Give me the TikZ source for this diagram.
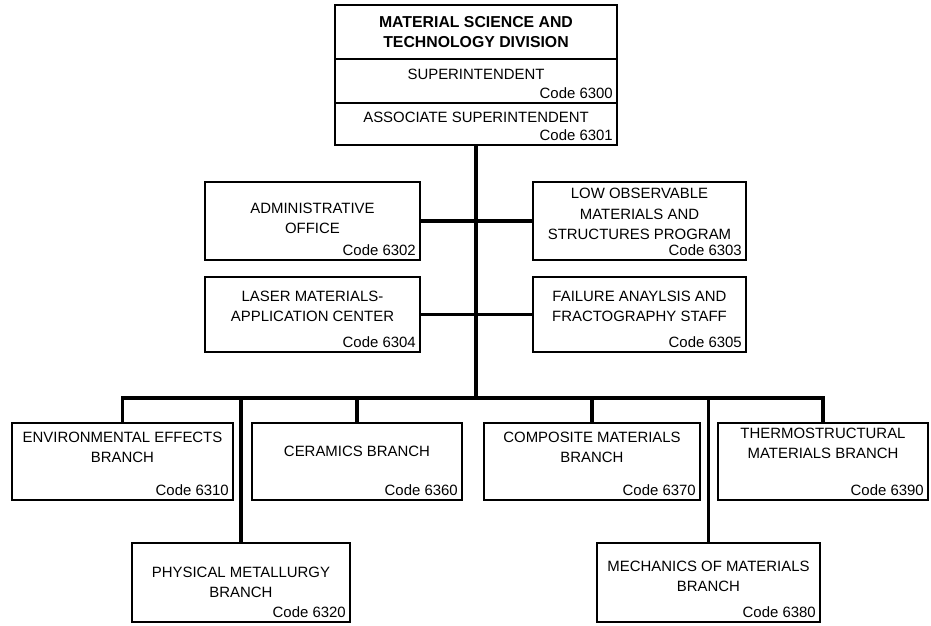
\documentclass[tikz,border=0pt]{standalone}
\usepackage{fontspec}
\setmainfont{Liberation Sans}
\usetikzlibrary{positioning}

\begin{document}
\begin{tikzpicture}[
    x=0.02cm, y=-0.02cm,
    node distance=0.34cm,
    unit/.style={rectangle, draw, line width=1.3pt, outer sep=0pt, inner sep=0pt},
    txt/.style={font=\fontsize{8.5}{11.5}\selectfont, align=center, inner sep=0pt},
    code/.style={font=\fontsize{8.5}{10}\selectfont, anchor=south east, inner xsep=2.2pt, inner ysep=2pt},
    link/.style={line width=1.9pt}
]
    \useasboundingbox (0,0) rectangle (931,626);

    % Division office
    \node[unit, minimum width=5.64cm, minimum height=1.08cm] (div) at (476,32) {};
    \node[unit, minimum width=5.64cm, minimum height=0.88cm, below=0pt of div] (sup) {};
    \node[unit, minimum width=5.64cm, minimum height=0.84cm, below=0pt of sup] (assoc) {};
    \node[txt, font=\fontsize{9}{11.5}\selectfont\bfseries] (divt) at (div.center) {MATERIAL SCIENCE AND\\TECHNOLOGY DIVISION};
    \node[txt] (supt) at ([yshift=0.14cm]sup.center) {SUPERINTENDENT};
    \node[code] (supc) at (sup.south east) {Code 6300};
    \node[txt] (assoct) at ([yshift=0.14cm]assoc.center) {ASSOCIATE SUPERINTENDENT};
    \node[code] (assocc) at (assoc.south east) {Code 6301};

    % Staff offices
    \node[unit, minimum width=4.3cm, minimum height=1.56cm] (admin) at (312.5,221) {};
    \node[unit, minimum width=4.26cm, minimum height=1.56cm] (lowobs) at (639.5,221) {};
    \node[unit, minimum width=4.3cm, minimum height=1.5cm, below=of admin] (laser) {};
    \node[unit, minimum width=4.26cm, minimum height=1.5cm, below=of lowobs] (failure) {};

    \node[txt] (admint) at ([yshift=0.06cm]admin.center) {ADMINISTRATIVE\\OFFICE};
    \node[code] (adminc) at (admin.south east) {Code 6302};
    \node[txt] (lowobst) at ([yshift=0.14cm]lowobs.center) {LOW OBSERVABLE\\MATERIALS AND\\STRUCTURES PROGRAM};
    \node[code] (lowobsc) at (lowobs.south east) {Code 6303};
    \node[txt] (lasert) at ([yshift=0.16cm]laser.center) {LASER MATERIALS-\\APPLICATION CENTER};
    \node[code] (laserc) at (laser.south east) {Code 6304};
    \node[txt] (failuret) at ([yshift=0.16cm]failure.center) {FAILURE ANAYLSIS AND\\FRACTOGRAPHY STAFF};
    \node[code] (failurec) at (failure.south east) {Code 6305};

    % Branches
    \node[unit, minimum width=4.42cm, minimum height=1.54cm] (env) at (122.5,461.5) {};
    \node[unit, minimum width=4.2cm, minimum height=1.54cm] (ceram) at (357,461.5) {};
    \node[unit, minimum width=4.32cm, minimum height=1.54cm] (compos) at (592,461.5) {};
    \node[unit, minimum width=4.2cm, minimum height=1.54cm] (thermo) at (823,461.5) {};
    \node[unit, minimum width=4.36cm, minimum height=1.58cm] (phys) at (241,582.5) {};
    \node[unit, minimum width=4.46cm, minimum height=1.58cm] (mech) at (708.5,582.5) {};

    \node[txt] (envt) at ([yshift=0.28cm]env.center) {ENVIRONMENTAL EFFECTS\\BRANCH};
    \node[code] (envc) at (env.south east) {Code 6310};
    \node[txt] (ceramt) at ([yshift=0.2cm]ceram.center) {CERAMICS BRANCH};
    \node[code] (ceramc) at (ceram.south east) {Code 6360};
    \node[txt] (compost) at ([yshift=0.28cm]compos.center) {COMPOSITE MATERIALS\\BRANCH};
    \node[code] (composc) at (compos.south east) {Code 6370};
    \node[txt] (thermot) at ([yshift=0.36cm]thermo.center) {THERMOSTRUCTURAL\\MATERIALS BRANCH};
    \node[code] (thermoc) at (thermo.south east) {Code 6390};
    \node[txt] (physt) at (phys.center) {PHYSICAL METALLURGY\\BRANCH};
    \node[code] (physc) at (phys.south east) {Code 6320};
    \node[txt] (mecht) at ([yshift=0.13cm]mech.center) {MECHANICS OF MATERIALS\\BRANCH};
    \node[code] (mechc) at (mech.south east) {Code 6380};

    % Lines of authority
    \coordinate (bus) at (476,398);
    \draw[link] (assoc.south) -- (bus);
    \draw[link] (admin.east) -- (lowobs.west);
    \draw[link] (laser.east) -- (failure.west);
    \draw[link] (env.north) -- (env.north |- bus) -- (thermo.north |- bus) -- (thermo.north);
    \draw[link] (ceram.north |- bus) -- (ceram.north);
    \draw[link] (compos.north |- bus) -- (compos.north);
    \draw[link] (phys.north |- bus) -- (phys.north);
    \draw[link] (mech.north |- bus) -- (mech.north);
\end{tikzpicture}
\end{document}
